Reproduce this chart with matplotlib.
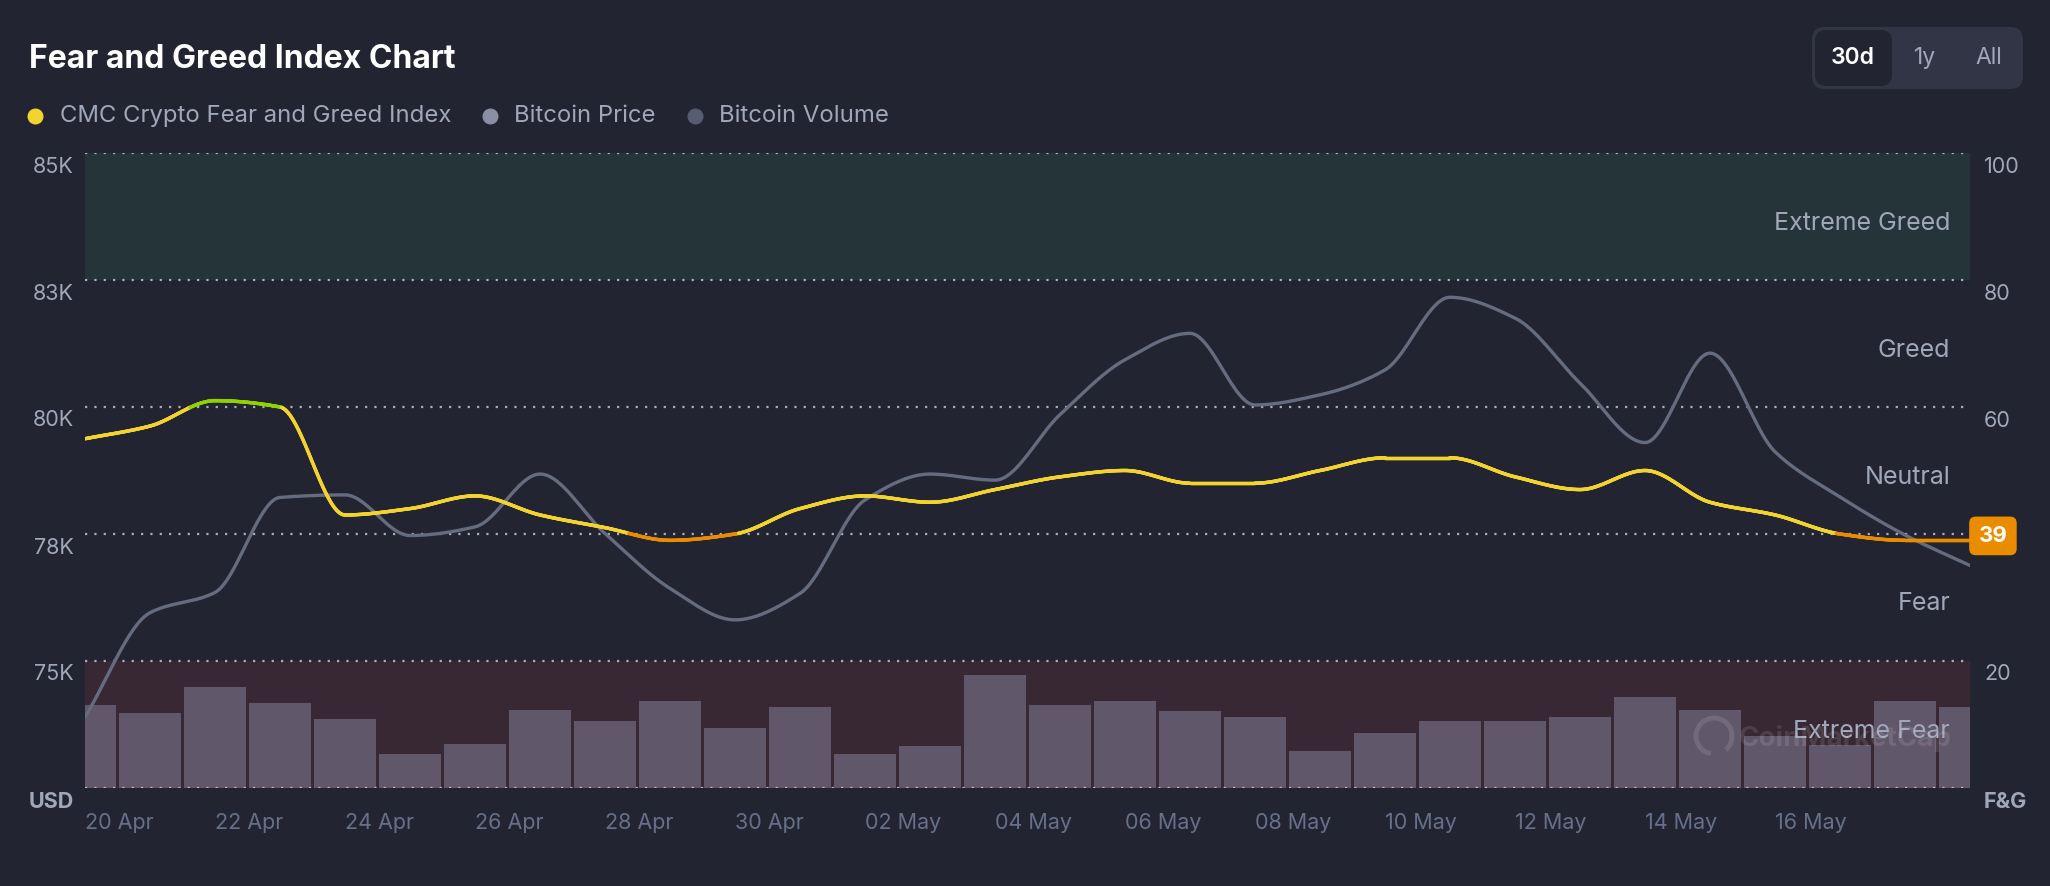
import numpy as np
import matplotlib
matplotlib.use('Agg')
import matplotlib.pyplot as plt
import matplotlib.transforms as mtransforms
from matplotlib.collections import LineCollection
from matplotlib.patches import FancyBboxPatch, Arc
from matplotlib.lines import Line2D

plt.rcParams['font.family'] = ['Inter', 'DejaVu Sans']

# ---------------- data ----------------
dates = ['20 Apr', '21 Apr', '22 Apr', '23 Apr', '24 Apr', '25 Apr', '26 Apr', '27 Apr',
         '28 Apr', '29 Apr', '30 Apr', '01 May', '02 May', '03 May', '04 May', '05 May',
         '06 May', '07 May', '08 May', '09 May', '10 May', '11 May', '12 May', '13 May',
         '14 May', '15 May', '16 May', '17 May', '18 May', '19 May']
x_tick_labels = ['20 Apr', '22 Apr', '24 Apr', '26 Apr', '28 Apr', '30 Apr', '02 May',
                 '04 May', '06 May', '08 May', '10 May', '12 May', '14 May', '16 May']
fear_greed = [55, 57, 61, 60, 43, 44, 46, 43, 41, 39, 40, 44, 46, 45, 47, 49, 50, 48, 48,
              50, 52, 52, 49, 47, 50, 45, 43, 40, 39, 39]
btc_price_k = [73.90, 75.95, 76.35, 78.22, 78.27, 77.47, 77.64, 78.68, 77.51, 76.43, 75.81,
               76.33, 78.17, 78.68, 78.56, 79.85, 80.93, 81.45, 80.04, 80.24, 80.73, 82.16,
               81.75, 80.47, 79.30, 81.06, 79.12, 78.23, 77.48, 76.88]
btc_volume_b = [32.5, 29.4, 39.6, 33.3, 27.0, 13.5, 17.5, 30.9, 26.2, 34.1, 23.8, 31.7,
                13.5, 16.7, 44.4, 32.5, 34.1, 30.2, 27.8, 14.4, 21.5, 26.2, 26.2, 27.8,
                35.7, 30.9, 20.3, 16.8, 34.1, 31.7]
price_ticks = [72.5, 75, 77.5, 80, 82.5, 85]
price_tick_labels = ['USD', '75K', '78K', '80K', '83K', '85K']
fg_ticks = [0, 20, 40, 60, 80, 100]
fg_tick_labels = ['F&G', '20', '', '60', '80', '100']
zone_names = ['Extreme Fear', 'Fear', 'Neutral', 'Greed', 'Extreme Greed']
zone_centers = [10, 30, 50, 70, 90]
legend_labels = ['CMC Crypto Fear and Greed Index', 'Bitcoin Price', 'Bitcoin Volume']
range_buttons = ['30d', '1y', 'All']
current_value = fear_greed[-1]

# ---------------- style ----------------
BG = '#222531'
GREED_BAND = '#253439'
FEAR_BAND = '#372833'
BAR = '#61576a'
PRICE = '#666c80'
YELLOW = '#f3d42f'
GREEN = '#8fd400'
ORANGE = '#ea8c00'
LABEL = '#a1a7bb'
XLABEL = '#66708a'
GRID = '#c3c6d0'


def pchip(x, y, xs):
    x = np.asarray(x, float)
    y = np.asarray(y, float)
    h = np.diff(x)
    d = np.diff(y) / h
    n = len(x)
    m = np.zeros(n)
    for k in range(1, n - 1):
        if d[k - 1] * d[k] > 0:
            w1 = 2 * h[k] + h[k - 1]
            w2 = h[k] + 2 * h[k - 1]
            m[k] = (w1 + w2) / (w1 / d[k - 1] + w2 / d[k])
    m[0] = d[0]
    m[-1] = d[-1]
    idx = np.clip(np.searchsorted(x, xs) - 1, 0, n - 2)
    t = (xs - x[idx]) / h[idx]
    h00 = 2 * t**3 - 3 * t**2 + 1
    h10 = t**3 - 2 * t**2 + t
    h01 = -2 * t**3 + 3 * t**2
    h11 = t**3 - t**2
    return h00 * y[idx] + h10 * h[idx] * m[idx] + h01 * y[idx + 1] + h11 * h[idx] * m[idx + 1]


W, H = 2050, 886
fig = plt.figure(figsize=(W / 100, H / 100), dpi=100, facecolor=BG)
label_shift = mtransforms.ScaledTranslation(0, -0.035, fig.dpi_scale_trans)

rect = [85 / W, 98 / H, 1885 / W, 635 / H]
ax_bg = fig.add_axes(rect)
ax_bg.set_facecolor(BG)
x = np.arange(len(dates))
ax_bg.set_xlim(0, len(dates) - 1)
ax_bg.set_ylim(0, 100)
ax_bg.axhspan(80, 100, color=GREED_BAND, lw=0, zorder=0)
ax_bg.axhspan(0, 20, color=FEAR_BAND, lw=0, zorder=0)
for s in ax_bg.spines.values():
    s.set_visible(False)
ax_bg.set_yticks([])
ax_bg.set_xticks([dates.index(l) for l in x_tick_labels])
ax_bg.set_xticklabels(x_tick_labels, ha='left')
ax_bg.tick_params(axis='x', length=0, pad=18, labelsize=15.5, labelcolor=XLABEL)

# volume bars
ax_vol = ax_bg.twinx()
ax_vol.set_ylim(0, 250)
ax_vol.bar(x, btc_volume_b, width=0.965, color=BAR, lw=0, zorder=2)
ax_vol.set_yticks([])
for s in ax_vol.spines.values():
    s.set_visible(False)

# price line + grid
ax_price = ax_bg.twinx()
ax_price.set_ylim(price_ticks[0], price_ticks[-1])
ax_price.yaxis.tick_left()
ax_price.set_yticks(price_ticks)
ax_price.set_yticklabels(price_tick_labels)
ax_price.tick_params(axis='y', length=0, pad=8, labelsize=15.5, labelcolor=LABEL)
for t in ax_price.get_yticklabels():
    t.set_va('top')
    t.set_transform(t.get_transform() + label_shift)
ax_price.get_yticklabels()[0].set_fontweight('bold')
ax_price.set_axisbelow(True)
ax_price.grid(True, axis='y', color=GRID, lw=1.6, linestyle=(0, (1, 3.2)), alpha=0.85)
for s in ax_price.spines.values():
    s.set_visible(False)
xs = np.linspace(0, len(dates) - 1, 3000)
ax_price.plot(xs, pchip(x, btc_price_k, xs), color=PRICE, lw=2.4, solid_capstyle='round', zorder=3)

# fear & greed line
ax_fg = ax_bg.twinx()
ax_fg.set_ylim(0, 100)
ax_fg.set_yticks(fg_ticks)
ax_fg.set_yticklabels(fg_tick_labels)
ax_fg.tick_params(axis='y', length=0, pad=10, labelsize=15.5, labelcolor=LABEL)
for t in ax_fg.get_yticklabels():
    t.set_va('top')
    t.set_transform(t.get_transform() + label_shift)
ax_fg.get_yticklabels()[0].set_fontweight('bold')
for s in ax_fg.spines.values():
    s.set_visible(False)
fy = pchip(x, fear_greed, xs)
pts = np.column_stack([xs, fy]).reshape(-1, 1, 2)
segs = np.concatenate([pts[:-1], pts[1:]], axis=1)
mid = (fy[:-1] + fy[1:]) / 2
cols = np.where(mid >= 59.9, GREEN, np.where(mid <= 40.1, ORANGE, YELLOW))
lc = LineCollection(segs, colors=cols, linewidths=2.5, capstyle='round', zorder=4)
ax_fg.add_collection(lc)

# zone labels
zone_tr = ax_fg.get_yaxis_transform() + mtransforms.ScaledTranslation(0, -0.065, fig.dpi_scale_trans)
for name, c in zip(zone_names, zone_centers):
    ax_fg.text(0.9894, c, name, transform=zone_tr, ha='right', va='center',
               fontsize=18, color=LABEL, zorder=5)

# current value badge
badge_tr = mtransforms.blended_transform_factory(ax_fg.transAxes, ax_fg.transData) + \
    mtransforms.ScaledTranslation(0.085, 0, fig.dpi_scale_trans)
ax_fg.text(1.0, current_value + 0.7, str(current_value), transform=badge_tr, ha='left', va='center',
           fontsize=16, fontweight='bold', color='white', zorder=10, clip_on=False,
           bbox=dict(boxstyle='round,pad=0.42,rounding_size=0.3', fc=ORANGE, ec='none'))

# title & legend
fig.text(29 / W, 1 - 59 / H, 'Fear and Greed Index Chart', fontsize=23, fontweight='bold',
         color='white', ha='left', va='center')
legend_dot_x = [35, 490, 695]
legend_text_x = [60, 514, 719]
legend_colors = [YELLOW, '#8a8fa3', '#575c70']
for lx, tx, lab, col in zip(legend_dot_x, legend_text_x, legend_labels, legend_colors):
    fig.add_artist(Line2D([lx / W], [1 - 116 / H], marker='o', markersize=10.5, color=col,
                          transform=fig.transFigure, lw=0))
    fig.text(tx / W, 1 - 116 / H, lab, fontsize=17.2, color=LABEL, ha='left', va='center')

# range buttons
outer = FancyBboxPatch((18.12, (H - 89) / 100), 2.11, 0.62,
                       boxstyle='round,pad=0,rounding_size=0.13', fc='#323546', ec='none',
                       transform=fig.dpi_scale_trans)
inner = FancyBboxPatch((18.15, (H - 86) / 100), 0.77, 0.56,
                       boxstyle='round,pad=0,rounding_size=0.11', fc=BG, ec='none',
                       transform=fig.dpi_scale_trans)
fig.add_artist(outer)
fig.add_artist(inner)
btn_x = [1853, 1925, 1989]
for bx, lab in zip(btn_x, range_buttons):
    sel = lab == '30d'
    fig.text(bx / W, 1 - 58 / H, lab, fontsize=16.5, color='white' if sel else LABEL,
             fontweight='semibold' if sel else 'normal', ha='center', va='center')

# watermark
fig.text(1739 / W, 1 - 738 / H, 'CoinMarketCap', fontsize=20, fontweight='bold', color='white',
         alpha=0.11, ha='left', va='center')
fig.add_artist(Arc((17.14, (H - 736) / 100), 0.36, 0.36, theta1=-50, theta2=260, lw=3.5,
                   color='white', alpha=0.11, transform=fig.dpi_scale_trans))

fig.savefig('out.png', dpi=100, facecolor=BG)
